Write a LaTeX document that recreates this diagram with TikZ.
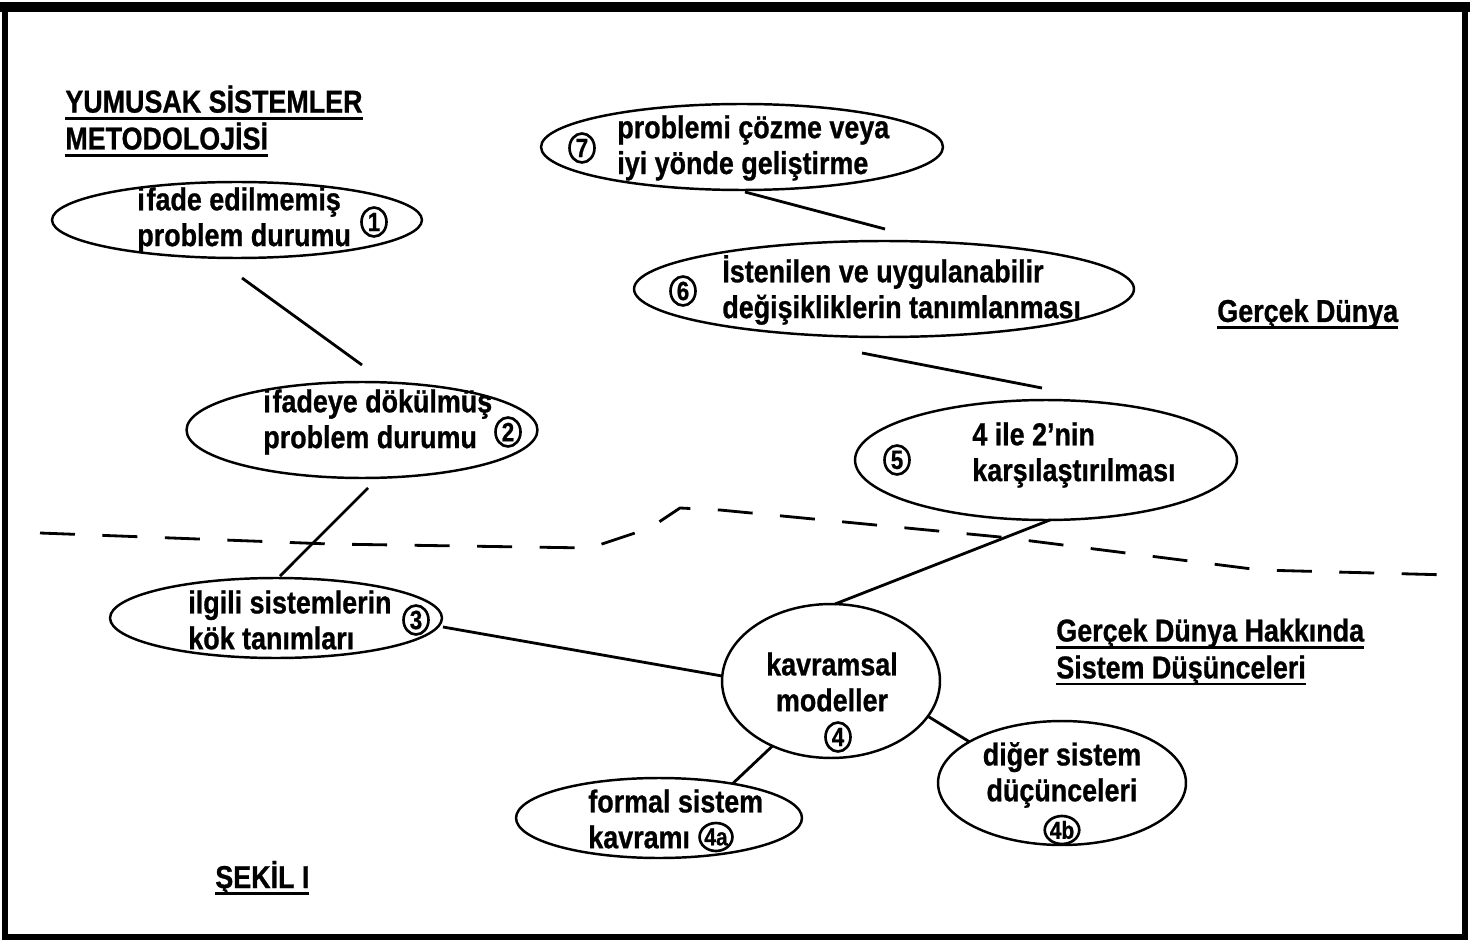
\documentclass[tikz,border=0pt]{standalone}
\usepackage{fontspec}
\setmainfont{Liberation Sans}[FakeStretch=0.85,BoldFeatures={FakeBold=0.8}]
\newcommand{\thul}[1]{\setbox0\hbox{#1}\rlap{\rule[-4pt]{\wd0}{1.6pt}}\box0}
\usetikzlibrary{shapes.geometric,calc}
\begin{document}
\begin{tikzpicture}[x=0.02cm,y=-0.02cm,
  ell/.style={draw,ellipse,line width=1.4pt,inner sep=0,outer sep=0},
  conn/.style={line width=1.6pt},
  txt/.style={font=\fontsize{18}{20.4}\selectfont\bfseries,align=left,inner sep=0},
  num/.style={draw,ellipse,line width=1.5pt,inner sep=0,minimum width=0.5cm,minimum height=0.58cm,font=\fontsize{15}{15}\selectfont\bfseries},
  numo/.style={draw,ellipse,line width=1.5pt,inner sep=0pt,minimum height=0.56cm,font=\fontsize{14}{14}\selectfont\bfseries},
  lbl/.style={font=\fontsize{18}{21}\selectfont\bfseries,align=left,inner sep=0,anchor=west}]
\useasboundingbox (0,0) rectangle (1470,942);
% frame
\fill (0,2) rectangle (1470,12);
\draw[line width=3.4pt] (5,8) rectangle (1465,937);

% ellipses
\node[ell,minimum width=7.4cm,minimum height=1.52cm] (e1) at (237,220) {};
\node[ell,minimum width=7.02cm,minimum height=1.92cm] (e2) at (362,430) {};
\node[ell,minimum width=6.64cm,minimum height=1.6cm] (e3) at (276,618) {};
\node[ell,minimum width=4.36cm,minimum height=3.08cm] (e4) at (831,681) {};
\node[ell,minimum width=5.72cm,minimum height=1.6cm] (e4a) at (659,818) {};
\node[ell,minimum width=4.96cm,minimum height=2.48cm] (e4b) at (1062,783) {};
\node[ell,minimum width=7.64cm,minimum height=2.4cm] (e5) at (1046,460) {};
\node[ell,minimum width=10cm,minimum height=1.92cm] (e6) at (884,289) {};
\node[ell,minimum width=8.04cm,minimum height=1.72cm] (e7) at (742,147) {};

% texts
\node[txt,anchor=west] (t1) at (137,220) {i\kern1pt fade edilmemiş\\problem durumu};
\node[num] (n1) at (374,222) {1};
\node[txt,anchor=west] (t2) at (263,422) {i\kern1pt fadeye dökülmüş\\problem durumu};
\node[num] (n2) at (508,432) {2};
\node[txt,anchor=west] (t3) at (188,620) {ilgili sistemlerin\\kök tanımları};
\node[num] (n3) at (416,620) {3};
\node[txt,align=center] (t4) at (832,682) {kavramsal\\modeller};
\node[num] (n4) at (838,737) {4};
\node[txt,anchor=west] (t4a) at (588,819) {formal sistem\\kavramı};
\node[numo] (n4a) at (716,837) {4a};
\node[txt,align=center] (t4b) at (1062,775) {diğer sistem\\düçünceleri};
\node[numo] (n4b) at (1062,830) {4b};
\node[num] (n5) at (897,460) {5};
\node[txt,anchor=west] (t5) at (972,455) {4 ile 2'nin\\karşılaştırılması};
\node[num] (n6) at (683,291) {6};
\node[txt,anchor=west] (t6) at (722,290) {İstenilen ve uygulanabilir\\değişikliklerin tanımlanması};
\node[num] (n7) at (582,148) {7};
\node[txt,anchor=west] (t7) at (617,148) {problemi çözme veya\\iyi yönde geliştirme};

% labels
\node[lbl] (title) at (65,121) {\thul{YUMUSAK SİSTEMLER}\\\thul{METODOLOJİSİ}};
\node[lbl] (gd) at (1217,314) {\thul{Gerçek Dünya}};
\node[lbl] (gdh) at (1056,652) {\thul{Gerçek Dünya Hakkında}\\\thul{Sistem Düşünceleri}};
\node[lbl] (sekil) at (215,878) {\thul{ŞEKİL I}};

% connectors
\draw[conn] ($(e1.south)+(5,20)$) -- ($(e2.north)+(0,-17)$);
\draw[conn] ($(e2.south)+(6,10)$) -- ($(e3.north)+(4,-2)$);
\draw[conn] ($(e3.east)+(1,9)$) -- ($(e4.west)+(0,-5)$);
\draw[conn] ($(e4.north)+(4,0)$) -- ($(e5.south)+(4,0)$);
\draw[conn] ($(e6.south)+(-22,16)$) -- ($(e5.north)+(-4,-12)$);
\draw[conn] ($(e7.south)+(3,2)$) -- ($(e6.north)+(1,-12)$);
\draw[conn] (e4.-132) -- (e4a.25);
\draw[conn] (e4.-20) -- (e4b.156);

% boundary
\draw[line width=1.6pt,dash pattern=on 0.7cm off 0.55cm]
  (40,533) -- (330,544) -- (590,548) -- (650,528) -- (680,508) -- (720,510)
  -- (1000,537) -- (1260,570) -- (1450,575);
\end{tikzpicture}
\end{document}
